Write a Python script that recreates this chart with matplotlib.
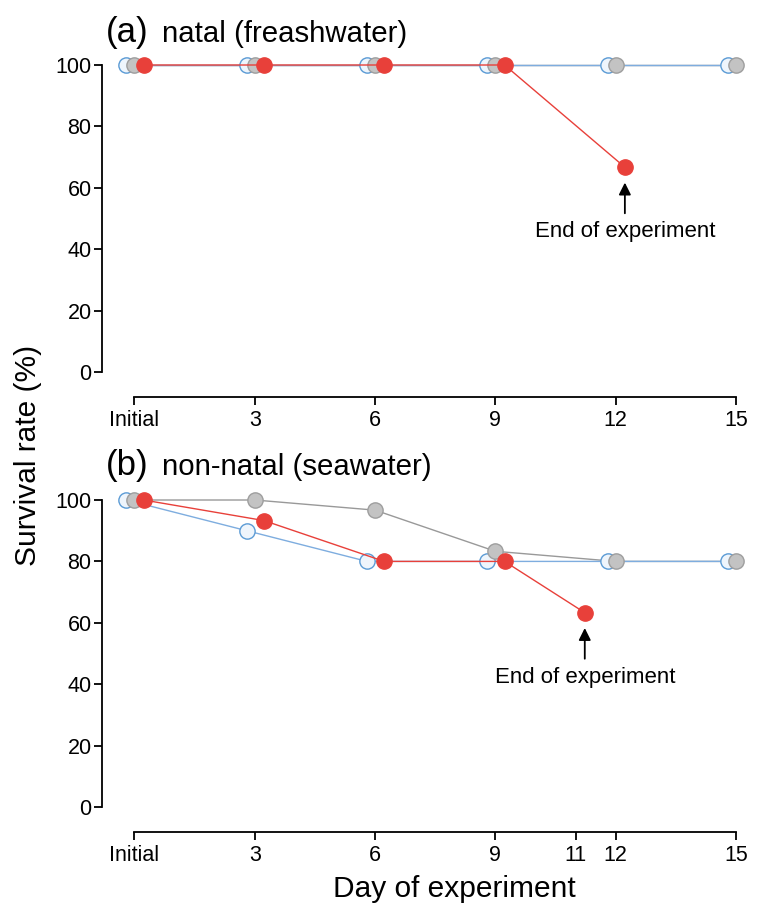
import matplotlib
matplotlib.use("Agg")
import matplotlib.pyplot as plt

plt.rcParams['font.family'] = ['Liberation Sans', 'DejaVu Sans']

W, H = 765, 905

days = [0, 3, 6, 9, 12, 15]
days_b = [0, 3, 6, 9, 12, 15]
red_days_a = [0, 3, 6, 9, 12]
red_days_b = [0, 3, 6, 9, 11]

# panel (a) natal (freshwater)
blue_a = [100, 100, 100, 100, 100, 100]
gray_a = [100, 100, 100, 100, 100, 100]
red_a = [100, 100, 100, 100, 66.7]

# panel (b) non-natal (seawater)
blue_b = [100, 90, 80, 80, 80, 80]
gray_b = [100, 100, 96.7, 83.3, 80, 80]
red_b = [100, 93.3, 80, 80, 63.3]

ticks_a = [0, 3, 6, 9, 12, 15]
labels_a = ['Initial', '3', '6', '9', '12', '15']
ticks_b = [0, 3, 6, 9, 11, 12, 15]
labels_b = ['Initial', '3', '6', '9', '11', '12', '15']

BLUE_E, BLUE_F, BLUE_L = '#5b9bd5', '#eef5fc', '#7eaddf'
GRAY_E, GRAY_F, GRAY_L = '#9e9e9e', '#c3c3c3', '#999999'
RED = '#e8403a'

off_blue, off_gray, off_red = -0.2, 0.0, 0.23


def panel(ax, bx, by, gx, gy, rx, ry, ticks, labels):
    bxs = [d + off_blue for d in bx]
    gxs = [d + off_gray for d in gx]
    rxs = [d + off_red for d in rx]
    # lines: gray under blue, red on top
    ax.plot(gxs, gy, '-', color=GRAY_L, lw=1, clip_on=False, zorder=2)
    ax.plot(bxs, by, '-', color=BLUE_L, lw=1, clip_on=False, zorder=2.5)
    ax.plot(rxs, ry, '-', color=RED, lw=1, clip_on=False, zorder=5)
    # markers: blue, gray, red
    ax.plot(bxs, by, 'o', ms=11, mfc=BLUE_F, mec=BLUE_E, mew=1,
            clip_on=False, zorder=3)
    ax.plot(gxs, gy, 'o', ms=11, mfc=GRAY_F, mec=GRAY_E, mew=1,
            clip_on=False, zorder=4)
    ax.plot(rxs, ry, 'o', ms=11, mfc=RED, mec=RED, mew=1,
            clip_on=False, zorder=5)

    ax.set_xlim(-0.81, 15.6)
    ax.set_ylim(-8.14, 103.26)
    for s in ['top', 'right']:
        ax.spines[s].set_visible(False)
    ax.spines['left'].set_bounds(0, 100)
    ax.spines['bottom'].set_bounds(0, 15)
    for s in ['left', 'bottom']:
        ax.spines[s].set_linewidth(1.3)
    ax.set_yticks(range(0, 101, 20))
    ax.set_xticks(ticks)
    ax.set_xticklabels(labels)
    ax.tick_params(axis='both', labelsize=15.5, width=1.3, length=6)
    ax.tick_params(axis='y', pad=1.5)
    ax.tick_params(axis='x', pad=3)

    # end-of-experiment arrow under the last red point
    xe, ye = rxs[-1], ry[-1]
    ax.annotate('', xy=(xe, ye - 5), xytext=(xe, ye - 15),
                arrowprops=dict(arrowstyle='-|>', color='black', lw=1.3,
                                mutation_scale=18, shrinkA=0, shrinkB=0))
    ax.text(xe, ye - 21, 'End of experiment', ha='center', va='center',
            fontsize=16)


fig = plt.figure(figsize=(W / 100, H / 100), dpi=100)
left = 102 / W
width = (760 - 102) / W
ax1 = fig.add_axes([left, 1 - 397 / H, width, 342 / H])
ax2 = fig.add_axes([left, 1 - 832 / H, width, 342 / H])

panel(ax1, days, blue_a, days, gray_a, red_days_a, red_a, ticks_a, labels_a)
panel(ax2, days_b, blue_b, days_b, gray_b, red_days_b, red_b, ticks_b, labels_b)

fig.text(106 / W, 1 - 42 / H, '(a)', fontsize=25, va='baseline')
fig.text(162 / W, 1 - 42 / H, 'natal (freashwater)', fontsize=21.2, va='baseline')
fig.text(106 / W, 1 - 475 / H, '(b)', fontsize=25, va='baseline')
fig.text(162 / W, 1 - 475 / H, 'non-natal (seawater)', fontsize=21.2, va='baseline')

fig.text(28 / W, 1 - 455 / H, 'Survival rate (%)', rotation=90,
         ha='center', va='center', fontsize=21.5)
fig.text(454 / W, 1 - 897 / H, 'Day of experiment', ha='center',
         va='baseline', fontsize=21.5)

fig.savefig('out.png', dpi=100)
